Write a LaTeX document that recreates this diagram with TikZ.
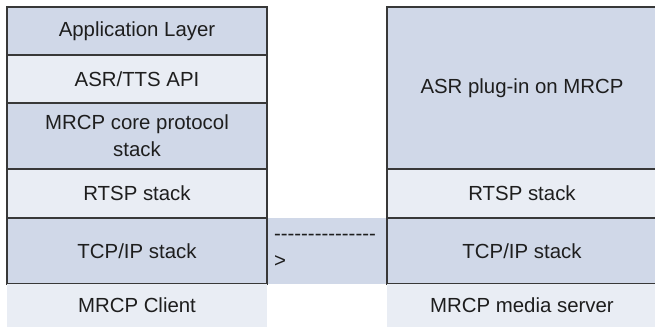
\documentclass[tikz,border=0pt]{standalone}
\usepackage{fontspec}
\setmainfont{Liberation Sans}
\usepackage{xcolor}
\usetikzlibrary{positioning}
\definecolor{darkfill}{HTML}{D0D8E8}
\definecolor{lightfill}{HTML}{E9EDF4}
\definecolor{edgecol}{HTML}{383838}
\definecolor{textcol}{HTML}{1E1E1E}
\begin{document}
\begin{tikzpicture}[x=1pt, y=-1pt, node distance=0pt]
        \tikzset{
            layer/.style={shape = rectangle, outer sep=0pt, inner sep=0pt, align=center,
                text=textcol, font=\fontsize{20.4}{27}\selectfont},
            dark_layer/.style={layer, draw=edgecol, line width=1.1pt, fill=darkfill},
            light_layer/.style={layer, draw=edgecol, line width=1.1pt, fill=lightfill},
            base_layer/.style={layer, fill=lightfill},
            link/.style={layer, fill=darkfill, align=left, text width=106pt, inner xsep=7pt}
        }
        \useasboundingbox[fill=white] (0,0) rectangle (655,327);
        \node[dark_layer, minimum width=260pt, minimum height=48pt] (app) at (137,31) {Application Layer};
        \node[light_layer, minimum width=260pt, minimum height=48pt] (api) [below= of app] {ASR/TTS API};
        \node[dark_layer, minimum width=260pt, minimum height=66pt] (core) [below= of api] {MRCP core protocol\\stack};
        \node[light_layer, minimum width=260pt, minimum height=49pt] (rtspc) [below= of core] {RTSP stack};
        \node[dark_layer, minimum width=260pt, minimum height=66pt] (tcpc) [below= of rtspc] {TCP/IP stack};
        \node[base_layer, minimum width=260pt, minimum height=43pt] (client) [below= of tcpc] {MRCP Client};
        \node[dark_layer, minimum width=270pt, minimum height=162pt] (plugin) at (522,88) {ASR plug-in on MRCP};
        \node[light_layer, minimum width=270pt, minimum height=49pt] (rtsps) [below= of plugin] {RTSP stack};
        \node[dark_layer, minimum width=270pt, minimum height=66pt] (tcps) [below= of rtsps] {TCP/IP stack};
        \node[base_layer, minimum width=270pt, minimum height=43pt] (server) [below= of tcps] {MRCP media server};
        \node[link, minimum height=66pt] (wire) [right= of tcpc] {-{}-{}-{}-{}-{}-{}-{}-{}-{}-{}-{}-{}-{}-{}-\\>};
        \draw[edgecol, line width=1.1pt] (tcpc.north east) -- (tcpc.south east);
        \draw[edgecol, line width=1.1pt] (tcps.north west) -- (tcps.south west);
    \end{tikzpicture}
\end{document}
